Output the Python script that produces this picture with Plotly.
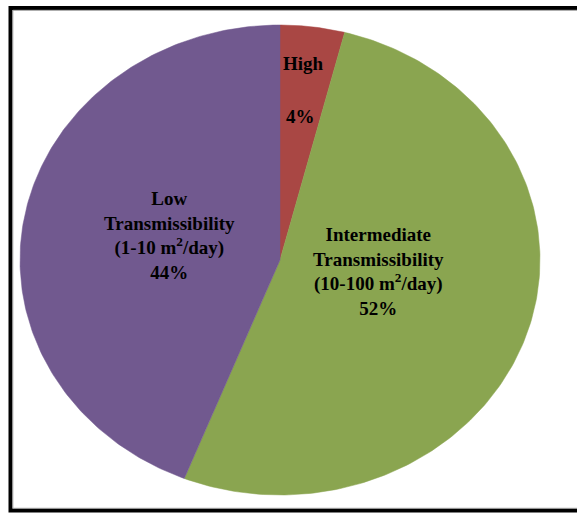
import numpy as np
import plotly.graph_objects as go

# ---- data ----
categories = ["High", "Intermediate Transmissibility", "Low Transmissibility"]
percent = [4, 52, 44]
label_names = [
    "High",
    "Intermediate<br>Transmissibility<br>(10-100 m<sup>2</sup>/day)",
    "Low<br>Transmissibility<br>(1-10 m<sup>2</sup>/day)",
]
colors = ["#A94744", "#8AA550", "#71598F"]

W, H = 577, 513
cx_px, cy_px, rx_px, ry_px = 280, 260, 260, 235
FONT = dict(family="Liberation Serif", size=19, color="black")

fig = go.Figure()
total = sum(percent)
start = 0.0
for cat, val, col in zip(categories, percent, colors):
    frac = val / total
    th = np.linspace(start, start + frac * 2 * np.pi, 200)
    xs = np.concatenate([[0], np.sin(th), [0]])
    ys = np.concatenate([[0], np.cos(th), [0]])
    fig.add_trace(go.Scatter(x=xs, y=ys, fill="toself", fillcolor=col,
                             mode="lines", line=dict(width=0.5, color=col),
                             name=cat, hoverinfo="name", showlegend=False))
    start += frac * 2 * np.pi

# High: name and percent placed apart; others: one block
fig.add_annotation(x=0.09, y=0.835, text=f"<b>{label_names[0]}</b>",
                   showarrow=False, font=FONT, xanchor="center", yanchor="middle")
fig.add_annotation(x=0.08, y=0.61, text=f"<b>{percent[0]}%</b>",
                   showarrow=False, font=FONT, xanchor="center", yanchor="middle")
for txt, val, (lx, ly) in zip(label_names[1:], percent[1:],
                              [(0.377, -0.05), (-0.425, 0.105)]):
    fig.add_annotation(x=lx, y=ly, text=f"<b>{txt}<br>{val}%</b>",
                       showarrow=False, font=FONT, align="center",
                       xanchor="center", yanchor="middle")

xr = [-cx_px / rx_px, (W - cx_px) / rx_px]
yr = [-(H - cy_px) / ry_px, cy_px / ry_px]

fig.update_layout(
    width=W, height=H,
    margin=dict(l=0, r=0, t=0, b=0),
    paper_bgcolor="white", plot_bgcolor="white",
    xaxis=dict(range=xr, visible=False, fixedrange=True),
    yaxis=dict(range=yr, visible=False, fixedrange=True),
    shapes=[
        dict(type="rect", xref="paper", yref="paper",
             x0=10.5 / W, x1=590 / W, y0=1 - 510.5 / H, y1=1 - 8 / H,
             line=dict(color="black", width=4), layer="above"),
        dict(type="rect", xref="paper", yref="paper",
             x0=12.8 / W, x1=590 / W, y0=1 - 508.3 / H, y1=1 - 10.3 / H,
             line=dict(color="#9a9a9a", width=1), layer="above"),
    ],
)

fig.write_html("out.html")
